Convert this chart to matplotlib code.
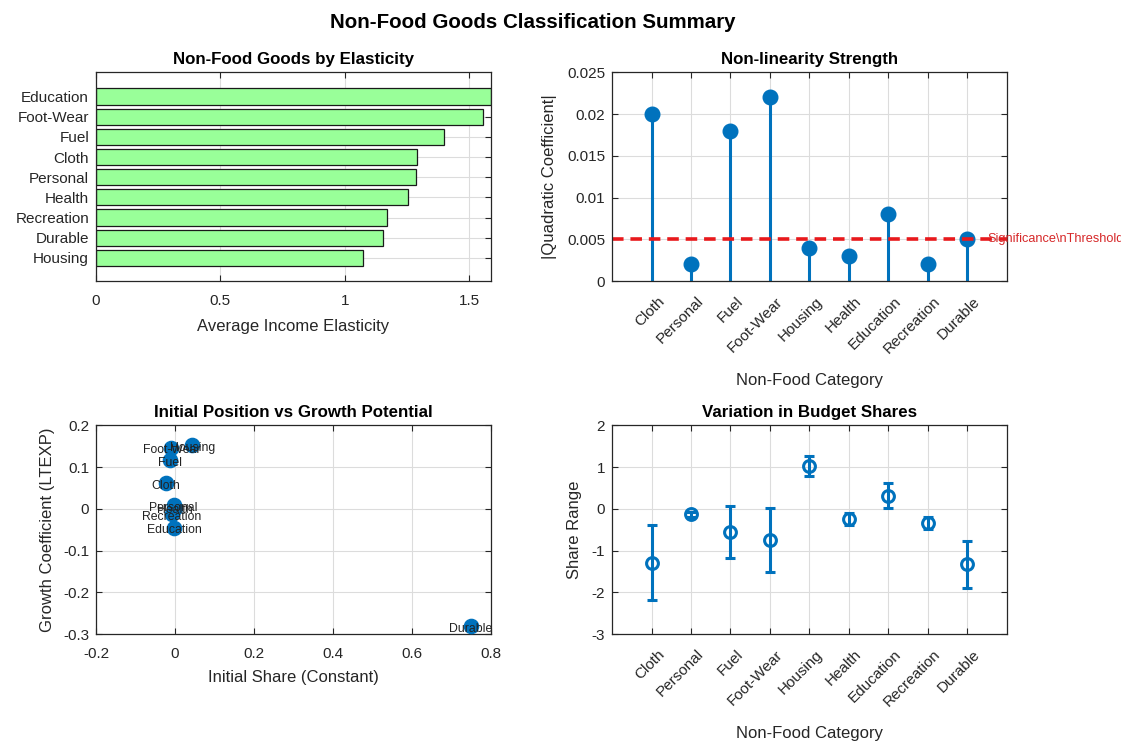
import numpy as np
import matplotlib
matplotlib.use("Agg")
import matplotlib.pyplot as plt
from matplotlib.transforms import ScaledTranslation

plt.rcParams['font.family'] = ['Liberation Sans', 'DejaVu Sans']

# Average income elasticity, sorted ascending (bottom to top)
elast_names = ['Housing', 'Durable', 'Recreation', 'Health', 'Personal',
               'Cloth', 'Fuel', 'Foot-Wear', 'Education']
elast_values = [1.074, 1.152, 1.169, 1.253, 1.285, 1.288, 1.398, 1.556, 1.585]

# Category order used in the stem and error bar panels
categories = ['Cloth', 'Personal', 'Fuel', 'Foot-Wear', 'Housing',
              'Health', 'Education', 'Recreation', 'Durable']
quad_coef = [0.020, 0.002, 0.018, 0.022, 0.004, 0.003, 0.008, 0.002, 0.005]
threshold = 0.005

# Initial share (constant) vs growth coefficient (LTEXP)
scatter_names = ['Cloth', 'Personal', 'Fuel', 'Foot-Wear', 'Housing',
                 'Health', 'Education', 'Recreation', 'Durable']
initial_share = [-0.023, -0.003, -0.012, -0.009, 0.044,
                 0.000, -0.001, -0.008, 0.750]
growth_coef = [0.061, 0.008, 0.116, 0.146, 0.152,
               0.002, -0.045, -0.013, -0.281]

# Budget share mean and spread
share_mean = [-1.29, -0.13, -0.56, -0.74, 1.03, -0.24, 0.31, -0.34, -1.33]
share_err = [0.90, 0.06, 0.62, 0.77, 0.24, 0.15, 0.30, 0.14, 0.57]

mblue = '#0072BD'
axcol = '#262626'
gridcol = '#dcdcdc'


def style_axes(ax):
    for sp in ax.spines.values():
        sp.set_color(axcol)
        sp.set_linewidth(0.9)
    ax.tick_params(direction='in', length=4, width=0.8, colors=axcol,
                   labelsize=11, top=True, right=True)
    ax.tick_params(axis='x', pad=9.5)
    ax.tick_params(axis='y', pad=5)
    ax.grid(True, color=gridcol, linewidth=0.8)
    ax.set_axisbelow(True)


def category_ticks(ax, fig):
    # must run after style_axes: tick_params resets label transforms
    ax.set_xticks(xpos)
    ax.set_xticklabels(categories, rotation=45, ha='right', va='top',
                       rotation_mode='anchor')
    shift = ScaledTranslation(4 / 72, 0, fig.dpi_scale_trans)
    for lbl in ax.get_xticklabels():
        lbl.set_transform(lbl.get_transform() + shift)


fig = plt.figure(figsize=(11.21, 7.48), dpi=100)
fig.suptitle('Non-Food Goods Classification Summary', fontsize=14.8,
             fontweight='bold', x=0.4755, y=0.982)

left_x, right_x = 0.0856, 0.546
w = 0.352
top_y, bot_y = 0.6243, 0.1524
h = 0.279
title_fs = 12.2

# --- elasticity bars ---
ax1 = fig.add_axes([left_x, top_y, w, h])
style_axes(ax1)
ypos = np.arange(1, len(elast_names) + 1)
ax1.barh(ypos, elast_values, height=0.8, color='#99FF99',
         edgecolor='#1a1a1a', linewidth=0.9)
ax1.set_yticks(ypos)
ax1.set_yticklabels(elast_names)
ax1.set_xlim(0, max(elast_values))
ax1.set_xticks([0, 0.5, 1, 1.5])
ax1.set_xticklabels(['0', '0.5', '1', '1.5'])
ax1.set_ylim(-0.15, 10.2)
ax1.set_xlabel('Average Income Elasticity', fontsize=12, color=axcol,
               labelpad=8)
ax1.set_title('Non-Food Goods by Elasticity', fontsize=title_fs,
              fontweight='bold')

# --- non-linearity stems ---
ax2 = fig.add_axes([right_x, top_y, w, h])
style_axes(ax2)
xpos = np.arange(1, len(categories) + 1)
ax2.vlines(xpos, 0, quad_coef, color=mblue, linewidth=2.2)
ax2.plot(xpos, quad_coef, 'o', color=mblue, markersize=10.5)
ax2.plot([0, 10], [threshold, threshold], '--', color='#e8191c',
         linewidth=2.6, dashes=(3.2, 1.9))
ax2.text(9.5, threshold, 'Significance\\nThreshold', color='#d62728',
         fontsize=9.2, va='center', ha='left', clip_on=False)
ax2.set_xlim(0, 10)
ax2.set_ylim(0, 0.025)
ax2.set_yticks([0, 0.005, 0.01, 0.015, 0.02, 0.025])
ax2.set_yticklabels(['0', '0.005', '0.01', '0.015', '0.02', '0.025'])
category_ticks(ax2, fig)
ax2.set_xlabel('Non-Food Category', fontsize=12, color=axcol, labelpad=12)
ax2.set_ylabel('|Quadratic Coefficient|', fontsize=12, color=axcol,
               labelpad=7)
ax2.set_title('Non-linearity Strength', fontsize=title_fs, fontweight='bold')

# --- initial share vs growth ---
ax3 = fig.add_axes([left_x, bot_y, w, h])
style_axes(ax3)
ax3.scatter(initial_share, growth_coef, s=105, color=mblue, zorder=3)
for name, sx, gy in zip(scatter_names, initial_share, growth_coef):
    ax3.text(sx, gy - 0.006, name, fontsize=8.8, ha='center', va='center',
             color='#222222', zorder=4)
ax3.set_xlim(-0.2, 0.8)
ax3.set_ylim(-0.3, 0.2)
ax3.set_xticks([-0.2, 0, 0.2, 0.4, 0.6, 0.8])
ax3.set_xticklabels(['-0.2', '0', '0.2', '0.4', '0.6', '0.8'])
ax3.set_yticks([-0.3, -0.2, -0.1, 0, 0.1, 0.2])
ax3.set_yticklabels(['-0.3', '-0.2', '-0.1', '0', '0.1', '0.2'])
ax3.set_xlabel('Initial Share (Constant)', fontsize=12, color=axcol,
               labelpad=6)
ax3.set_ylabel('Growth Coefficient (LTEXP)', fontsize=12, color=axcol,
               labelpad=6)
ax3.set_title('Initial Position vs Growth Potential', fontsize=title_fs,
              fontweight='bold')

# --- budget share error bars ---
ax4 = fig.add_axes([right_x, bot_y, w, h])
style_axes(ax4)
ax4.errorbar(xpos, share_mean, yerr=share_err, fmt='o', color=mblue,
             markerfacecolor='none', markeredgewidth=2.2, markersize=8.5,
             elinewidth=2.2, capsize=3.6, capthick=2.2)
ax4.set_xlim(0, 10)
ax4.set_ylim(-3, 2)
ax4.set_yticks([-3, -2, -1, 0, 1, 2])
ax4.set_yticklabels(['-3', '-2', '-1', '0', '1', '2'])
category_ticks(ax4, fig)
ax4.set_xlabel('Non-Food Category', fontsize=12, color=axcol, labelpad=12)
ax4.set_ylabel('Share Range', fontsize=12, color=axcol, labelpad=7)
ax4.set_title('Variation in Budget Shares', fontsize=title_fs,
              fontweight='bold')

fig.savefig('out.png', dpi=100)
